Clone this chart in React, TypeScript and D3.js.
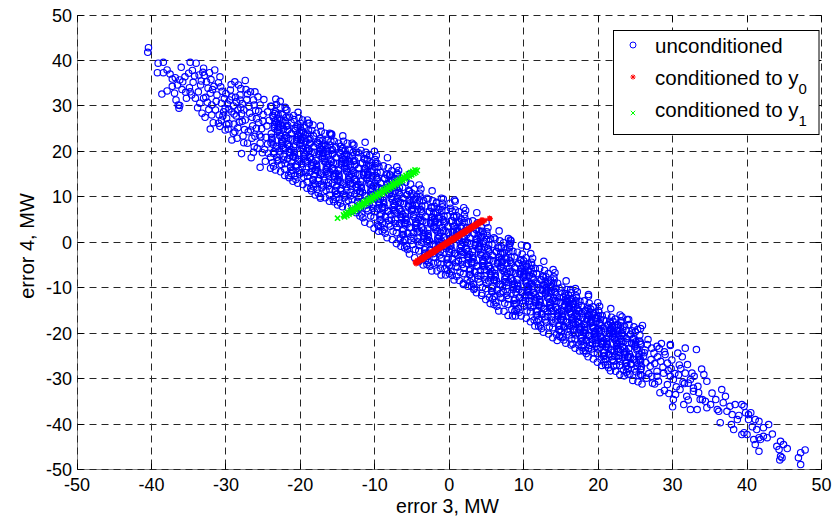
import React from "react"
import * as d3 from "d3"

// scatter of forecast errors, error 3 vs error 4 (MW), MATLAB style

const width = 836
const height = 520
const margin = { top: 15, right: 14.5, bottom: 50.5, left: 77 }

const xTicks = [-50, -40, -30, -20, -10, 0, 10, 20, 30, 40, 50]
const yTicks = [-50, -40, -30, -20, -10, 0, 10, 20, 30, 40, 50]

const legendLabels = ["unconditioned", "conditioned to y", "conditioned to y"]
const legendSubs = ["", "0", "1"]

// upper-left tail of the unconditioned cloud, [error 3, error 4]
const blueUpperTail: [number, number][] = [
  [-40.4,42.8],[-40.5,41.8],[-39.1,39.4],[-38.4,39.6],[-39.2,37.3],[-38.4,37.3],[-37.9,37.9],[-37.2,35.9],
  [-38.6,32.6],[-37.9,33.3],[-36.9,32.8],[-36.3,29.5],[-36.2,30.1],[-36.0,38.5],[-34.8,39.6],[-34.0,39.4],
  [-33.0,38.3],[-31.5,37.9],[-30.8,36.4],[-36.2,35.7],[-34.4,35.2],[-32.6,35.3],[-32.4,33.9],[-33.7,33.1],
  [-34.8,33.1],[-35.3,31.7],[-34.1,31.7],[-33.0,31.7],[-32.1,32.8],[-31.2,32.4],[-36.4,30.2],[-33.5,30.6],
  [-31.9,30.2],[-30.6,30.6],[-29.4,33.5],[-28.8,35.3],[-28.3,34.6],[-29.2,32.0],[-28.1,32.4],[-28.1,31.3],
  [-30.3,28.7],[-29.2,28.7],[-33.2,28.4],[-32.8,27.5],[-31.9,28.0],[-30.6,26.9],[-29.9,27.3],[-32.1,24.9],
  [-30.8,25.5],[-30.1,24.7],[-29.7,24.9],[-29.2,22.5],[-28.5,22.9],[-27.9,19.5],[-27.6,29.1],[-27.4,26.9],
  [-26.7,33.1],[-26.1,33.1],[-26.3,31.3],[-25.4,30.2],[-26.7,24.7],[-26.1,23.3],[-25.4,21.8],[-25.8,20.7],
  [-25.4,16.5],[-24.7,17.8],[-24.3,19.6],[-22.7,31.0],[-20.9,27.9],
  [-37.5,37.0],[-36.8,36.2],[-35.8,35.3],[-35.5,36.4],[-34.9,34.0],[-34.2,36.6],[-33.6,36.8],[-35.0,37.2],
  [-36.5,34.6],[-35.9,33.6],[-37.2,34.3],[-34.6,32.4],[-33.4,34.6],[-32.9,36.7],[-32.2,37.3],[-31.6,34.3],
  [-31.0,35.1],[-30.5,33.2],[-30.2,31.6],[-29.8,30.4],[-29.0,30.0],[-28.6,27.8],[-28.9,26.0],[-27.9,28.3],
  [-27.2,31.4],[-27.0,24.3],[-26.5,27.5],[-26.0,29.0],[-25.6,26.3],[-25.2,25.0],[-25.0,28.1],[-24.6,23.1],
  [-24.2,26.8],[-24.0,29.9],[-31.4,29.1],[-32.5,30.8],[-33.8,29.6],[-28.0,33.8],[-27.4,35.6],
  [-29.6,26.1],[-29.0,24.0],[-28.4,25.2],[-28.0,29.6],[-27.7,23.4],[-27.1,21.8],[-26.9,29.9],[-26.4,25.6],
  [-26.2,21.0],[-25.9,27.2],[-25.5,23.6],[-25.1,19.7],[-24.9,31.4],[-24.5,25.6],[-24.4,21.6],[-28.6,30.9],
  [-27.8,26.6],[-26.6,18.6],[-25.7,32.0],[-30.9,28.0],[-31.7,26.3],[-30.1,29.4],[-29.5,31.3],[-28.9,28.2],
  [-27.3,33.6],
  [-33.3,35.5],[-32.7,31.9],[-32.3,29.2],[-31.8,33.6],[-31.3,31.0],[-30.7,34.2],[-30.4,27.8],[-30.0,32.7],
  [-29.6,29.3],[-29.3,34.7],[-28.7,31.9],[-28.4,29.1],[-28.2,26.4],[-27.8,30.5],[-27.5,24.8],[-27.1,32.6],
  [-26.8,28.4],[-26.5,22.9],[-26.2,30.2],[-25.9,25.1],[-25.6,28.8],[-25.3,23.2],[-25.0,26.6],[-24.8,20.4],
  [-24.4,28.7],[-31.0,26.2],[-29.9,25.9],[-28.8,24.3],[-27.6,21.9],[-26.3,19.8],[-34.5,37.8],[-35.4,33.0],
  [-36.7,31.3],[-33.1,37.4],[-32.0,35.8],
]

// dense core of the unconditioned cloud, first pass
const blueCore: [number, number][] = [
  [-23.9,23.9],[-23.3,20.7],[-23.7,27.9],[-23.1,17.9],[-23.5,25.5],[-23.8,22.3],[-23.2,30.3],[-23.6,19.5],[-23.4,26.7],[-24,16.3],[-23.05,24.7],[-23.65,21.5],[-23.35,28.7],[-23.85,23.1],[-23.45,25.9],[-23.15,18.7],
  [-22.55,21.7],[-22.95,26.1],[-22.25,18.1],[-22.75,24.1],[-22.1,16.1],[-22.4,28.1],[-22.85,20.1],[-22.5,22.5],[-22.7,29.7],[-22.2,18.9],[-23,25.3],[-22.3,20.9],[-22.8,27.3],[-22.05,17.3],[-22.6,23.3],[-22.35,26.5],
  [-21.2,23.9],[-21.7,18.3],[-21.45,27.5],[-22,20.7],[-21.3,16.7],[-21.85,25.5],[-21.6,14.7],[-21.1,22.7],[-21.75,21.5],[-21.4,19.1],[-21.95,29.1],[-21.15,15.9],[-21.65,24.7],[-21.5,19.9],[-21.25,26.3],[-21.8,23.1],
  [-20.9,21],[-20.3,17.8],[-20.7,25],[-20.1,15],[-20.5,22.6],[-20.8,19.4],[-20.2,27.4],[-20.6,16.6],[-20.4,23.8],[-21,13.4],[-20.05,21.8],[-20.65,18.6],[-20.35,25.8],[-20.85,20.2],[-20.45,23],[-20.15,15.8],
  [-19.55,18.9],[-19.95,23.3],[-19.25,15.3],[-19.75,21.3],[-19.1,13.3],[-19.4,25.3],[-19.85,17.3],[-19.5,19.7],[-19.7,26.9],[-19.2,16.1],[-20,22.5],[-19.3,18.1],[-19.8,24.5],[-19.05,14.5],[-19.6,20.5],[-19.35,23.7],
  [-18.2,21],[-18.7,15.4],[-18.45,24.6],[-19,17.8],[-18.3,13.8],[-18.85,22.6],[-18.6,11.8],[-18.1,19.8],[-18.75,18.6],[-18.4,16.2],[-18.95,26.2],[-18.15,13],[-18.65,21.8],[-18.5,17],[-18.25,23.4],[-18.8,20.2],
  [-17.9,18],[-17.3,14.8],[-17.7,22],[-17.1,12],[-17.5,19.6],[-17.8,16.4],[-17.2,24.4],[-17.6,13.6],[-17.4,20.8],[-18,10.4],[-17.05,18.8],[-17.65,15.6],[-17.35,22.8],[-17.85,17.2],[-17.45,20],[-17.15,12.8],
  [-16.55,16],[-16.95,20.4],[-16.25,12.4],[-16.75,18.4],[-16.1,10.4],[-16.4,22.4],[-16.85,14.4],[-16.5,16.8],[-16.7,24],[-16.2,13.2],[-17,19.6],[-16.3,15.2],[-16.8,21.6],[-16.05,11.6],[-16.6,17.6],[-16.35,20.8],
  [-15.2,18.6],[-15.7,13],[-15.45,22.2],[-16,15.4],[-15.3,11.4],[-15.85,20.2],[-15.6,9.4],[-15.1,17.4],[-15.75,16.2],[-15.4,13.8],[-15.95,23.8],[-15.15,10.6],[-15.65,19.4],[-15.5,14.6],[-15.25,21],[-15.8,17.8],
  [-14.9,15.8],[-14.3,12.6],[-14.7,19.8],[-14.1,9.8],[-14.5,17.4],[-14.8,14.2],[-14.2,22.2],[-14.6,11.4],[-14.4,18.6],[-15,8.2],[-14.05,16.6],[-14.65,13.4],[-14.35,20.6],[-14.85,15],[-14.45,17.8],[-14.15,10.6],
  [-13.55,13.8],[-13.95,18.2],[-13.25,10.2],[-13.75,16.2],[-13.1,8.2],[-13.4,20.2],[-13.85,12.2],[-13.5,14.6],[-13.7,21.8],[-13.2,11],[-14,17.4],[-13.3,13],[-13.8,19.4],[-13.05,9.4],[-13.6,15.4],[-13.35,18.6],
  [-12.2,16.2],[-12.7,10.6],[-12.45,19.8],[-13,13],[-12.3,9],[-12.85,17.8],[-12.6,7],[-12.1,15],[-12.75,13.8],[-12.4,11.4],[-12.95,21.4],[-12.15,8.2],[-12.65,17],[-12.5,12.2],[-12.25,18.6],[-12.8,15.4],
  [-11.9,13.4],[-11.3,10.2],[-11.7,17.4],[-11.1,7.4],[-11.5,15],[-11.8,11.8],[-11.2,19.8],[-11.6,9],[-11.4,16.2],[-12,5.8],[-11.05,14.2],[-11.65,11],[-11.35,18.2],[-11.85,12.6],[-11.45,15.4],[-11.15,8.2],
  [-10.55,11.1],[-10.95,15.5],[-10.25,7.5],[-10.75,13.5],[-10.1,5.5],[-10.4,17.5],[-10.85,9.5],[-10.5,11.9],[-10.7,19.1],[-10.2,8.3],[-11,14.7],[-10.3,10.3],[-10.8,16.7],[-10.05,6.7],[-10.6,12.7],[-10.35,15.9],
  [-9.2,13],[-9.7,7.4],[-9.45,16.6],[-10,9.8],[-9.3,5.8],[-9.85,14.6],[-9.6,3.8],[-9.1,11.8],[-9.75,10.6],[-9.4,8.2],[-9.95,18.2],[-9.15,5],[-9.65,13.8],[-9.5,9],[-9.25,15.4],[-9.8,12.2],
  [-8.9,10],[-8.3,6.8],[-8.7,14],[-8.1,4],[-8.5,11.6],[-8.8,8.4],[-8.2,16.4],[-8.6,5.6],[-8.4,12.8],[-9,2.4],[-8.05,10.8],[-8.65,7.6],[-8.35,14.8],[-8.85,9.2],[-8.45,12],[-8.15,4.8],
  [-7.55,7.7],[-7.95,12.1],[-7.25,4.1],[-7.75,10.1],[-7.1,2.1],[-7.4,14.1],[-7.85,6.1],[-7.5,8.5],[-7.7,15.7],[-7.2,4.9],[-8,11.3],[-7.3,6.9],[-7.8,13.3],[-7.05,3.3],[-7.6,9.3],[-7.35,12.5],
  [-6.2,9.7],[-6.7,4.1],[-6.45,13.3],[-7,6.5],[-6.3,2.5],[-6.85,11.3],[-6.6,0.5],[-6.1,8.5],[-6.75,7.3],[-6.4,4.9],[-6.95,14.9],[-6.15,1.7],[-6.65,10.5],[-6.5,5.7],[-6.25,12.1],[-6.8,8.9],
  [-5.9,6.4],[-5.3,3.2],[-5.7,10.4],[-5.1,0.4],[-5.5,8],[-5.8,4.8],[-5.2,12.8],[-5.6,2],[-5.4,9.2],[-6,-1.2],[-5.05,7.2],[-5.65,4],[-5.35,11.2],[-5.85,5.6],[-5.45,8.4],[-5.15,1.2],
  [-4.55,3.7],[-4.95,8.1],[-4.25,0.1],[-4.75,6.1],[-4.1,-1.9],[-4.4,10.1],[-4.85,2.1],[-4.5,4.5],[-4.7,11.7],[-4.2,0.9],[-5,7.3],[-4.3,2.9],[-4.8,9.3],[-4.05,-0.7],[-4.6,5.3],[-4.35,8.5],
  [-3.2,5.6],[-3.7,0],[-3.45,9.2],[-4,2.4],[-3.3,-1.6],[-3.85,7.2],[-3.6,-3.6],[-3.1,4.4],[-3.75,3.2],[-3.4,0.8],[-3.95,10.8],[-3.15,-2.4],[-3.65,6.4],[-3.5,1.6],[-3.25,8],[-3.8,4.8],
  [-2.9,2.7],[-2.3,-0.5],[-2.7,6.7],[-2.1,-3.3],[-2.5,4.3],[-2.8,1.1],[-2.2,9.1],[-2.6,-1.7],[-2.4,5.5],[-3,-4.9],[-2.05,3.5],[-2.65,0.3],[-2.35,7.5],[-2.85,1.9],[-2.45,4.7],[-2.15,-2.5],
  [-1.55,0.8],[-1.95,5.2],[-1.25,-2.8],[-1.75,3.2],[-1.1,-4.8],[-1.4,7.2],[-1.85,-0.8],[-1.5,1.6],[-1.7,8.8],[-1.2,-2],[-2,4.4],[-1.3,0],[-1.8,6.4],[-1.05,-3.6],[-1.6,2.4],[-1.35,5.6],
  [-0.2,3.4],[-0.7,-2.2],[-0.45,7],[-1,0.2],[-0.3,-3.8],[-0.85,5],[-0.6,-5.8],[-0.1,2.2],[-0.75,1],[-0.4,-1.4],[-0.95,8.6],[-0.15,-4.6],[-0.65,4.2],[-0.5,-0.6],[-0.25,5.8],[-0.8,2.6],
  [0.1,0.7],[0.7,-2.5],[0.3,4.7],[0.9,-5.3],[0.5,2.3],[0.2,-0.9],[0.8,7.1],[0.4,-3.7],[0.6,3.5],[0,-6.9],[0.95,1.5],[0.35,-1.7],[0.65,5.5],[0.15,-0.1],[0.55,2.7],[0.85,-4.5],
  [1.45,-1.3],[1.05,3.1],[1.75,-4.9],[1.25,1.1],[1.9,-6.9],[1.6,5.1],[1.15,-2.9],[1.5,-0.5],[1.3,6.7],[1.8,-4.1],[1,2.3],[1.7,-2.1],[1.2,4.3],[1.95,-5.7],[1.4,0.3],[1.65,3.5],
  [2.8,0.9],[2.3,-4.7],[2.55,4.5],[2,-2.3],[2.7,-6.3],[2.15,2.5],[2.4,-8.3],[2.9,-0.3],[2.25,-1.5],[2.6,-3.9],[2.05,6.1],[2.85,-7.1],[2.35,1.7],[2.5,-3.1],[2.75,3.3],[2.2,0.1],
  [3.1,-2.1],[3.7,-5.3],[3.3,1.9],[3.9,-8.1],[3.5,-0.5],[3.2,-3.7],[3.8,4.3],[3.4,-6.5],[3.6,0.7],[3,-9.7],[3.95,-1.3],[3.35,-4.5],[3.65,2.7],[3.15,-2.9],[3.55,-0.1],[3.85,-7.3],
  [4.45,-4.6],[4.05,-0.2],[4.75,-8.2],[4.25,-2.2],[4.9,-10.2],[4.6,1.8],[4.15,-6.2],[4.5,-3.8],[4.3,3.4],[4.8,-7.4],[4,-1],[4.7,-5.4],[4.2,1],[4.95,-9],[4.4,-3],[4.65,0.2],
  [5.8,-2.9],[5.3,-8.5],[5.55,0.7],[5,-6.1],[5.7,-10.1],[5.15,-1.3],[5.4,-12.1],[5.9,-4.1],[5.25,-5.3],[5.6,-7.7],[5.05,2.3],[5.85,-10.9],[5.35,-2.1],[5.5,-6.9],[5.75,-0.5],[5.2,-3.7],
  [6.1,-6.1],[6.7,-9.3],[6.3,-2.1],[6.9,-12.1],[6.5,-4.5],[6.2,-7.7],[6.8,0.3],[6.4,-10.5],[6.6,-3.3],[6,-13.7],[6.95,-5.3],[6.35,-8.5],[6.65,-1.3],[6.15,-6.9],[6.55,-4.1],[6.85,-11.3],
  [7.45,-8.1],[7.05,-3.7],[7.75,-11.7],[7.25,-5.7],[7.9,-13.7],[7.6,-1.7],[7.15,-9.7],[7.5,-7.3],[7.3,-0.1],[7.8,-10.9],[7,-4.5],[7.7,-8.9],[7.2,-2.5],[7.95,-12.5],[7.4,-6.5],[7.65,-3.3],
  [8.8,-5.6],[8.3,-11.2],[8.55,-2],[8,-8.8],[8.7,-12.8],[8.15,-4],[8.4,-14.8],[8.9,-6.8],[8.25,-8],[8.6,-10.4],[8.05,-0.4],[8.85,-13.6],[8.35,-4.8],[8.5,-9.6],[8.75,-3.2],[8.2,-6.4],
  [9.1,-8.2],[9.7,-11.1],[9.3,-4.7],[9.9,-13.5],[9.5,-6.8],[9.2,-9.7],[9.8,-2.6],[9.4,-12.1],[9.6,-5.8],[9,-14.9],[9.95,-7.5],[9.35,-10.4],[9.65,-4],[9.15,-9],[9.55,-6.5],[9.85,-12.8],
  [10.45,-10.4],[10.05,-6.5],[10.75,-13.6],[10.25,-8.3],[10.9,-15.3],[10.6,-4.8],[10.15,-11.8],[10.5,-9.7],[10.3,-3.4],[10.8,-12.9],[10,-7.2],[10.7,-11.1],[10.2,-5.5],[10.95,-14.3],[10.4,-9],[10.65,-6.2],
  [11.8,-9],[11.3,-13.9],[11.55,-5.8],[11,-11.8],[11.7,-15.3],[11.15,-7.6],[11.4,-17.1],[11.9,-10],[11.25,-11.1],[11.6,-13.2],[11.05,-4.4],[11.85,-16],[11.35,-8.3],[11.5,-12.5],[11.75,-6.9],[11.2,-9.7],
  [12.1,-11.8],[12.7,-14.7],[12.3,-8.3],[12.9,-17.1],[12.5,-10.4],[12.2,-13.3],[12.8,-6.2],[12.4,-15.7],[12.6,-9.4],[12,-18.5],[12.95,-11.1],[12.35,-14],[12.65,-7.6],[12.15,-12.6],[12.55,-10.1],[12.85,-16.4],
  [13.45,-13.9],[13.05,-10],[13.75,-17.1],[13.25,-11.8],[13.9,-18.8],[13.6,-8.3],[13.15,-15.3],[13.5,-13.2],[13.3,-6.9],[13.8,-16.4],[13,-10.7],[13.7,-14.6],[13.2,-9],[13.95,-17.8],[13.4,-12.5],[13.65,-9.7],
  [14.8,-12.2],[14.3,-17.1],[14.55,-9],[14,-15],[14.7,-18.5],[14.15,-10.8],[14.4,-20.3],[14.9,-13.2],[14.25,-14.3],[14.6,-16.4],[14.05,-7.6],[14.85,-19.2],[14.35,-11.5],[14.5,-15.7],[14.75,-10.1],[14.2,-12.9],
  [15.1,-15.2],[15.7,-17.6],[15.3,-12.2],[15.9,-19.7],[15.5,-14],[15.2,-16.4],[15.8,-10.4],[15.4,-18.5],[15.6,-13.1],[15,-20.9],[15.95,-14.6],[15.35,-17],[15.65,-11.6],[15.15,-15.8],[15.55,-13.7],[15.85,-19.1],
  [16.45,-17.1],[16.05,-13.8],[16.75,-19.8],[16.25,-15.3],[16.9,-21.3],[16.6,-12.3],[16.15,-18.3],[16.5,-16.5],[16.3,-11.1],[16.8,-19.2],[16,-14.4],[16.7,-17.7],[16.2,-12.9],[16.95,-20.4],[16.4,-15.9],[16.65,-13.5],
  [17.8,-15.7],[17.3,-19.9],[17.55,-13],[17,-18.1],[17.7,-21.1],[17.15,-14.5],[17.4,-22.6],[17.9,-16.6],[17.25,-17.5],[17.6,-19.3],[17.05,-11.8],[17.85,-21.7],[17.35,-15.1],[17.5,-18.7],[17.75,-13.9],[17.2,-16.3],
  [18.1,-18.2],[18.7,-20.6],[18.3,-15.2],[18.9,-22.7],[18.5,-17],[18.2,-19.4],[18.8,-13.4],[18.4,-21.5],[18.6,-16.1],[18,-23.9],[18.95,-17.6],[18.35,-20],[18.65,-14.6],[18.15,-18.8],[18.55,-16.7],[18.85,-22.1],
  [19.45,-20.2],[19.05,-16.9],[19.75,-22.9],[19.25,-18.4],[19.9,-24.4],[19.6,-15.4],[19.15,-21.4],[19.5,-19.6],[19.3,-14.2],[19.8,-22.3],[19,-17.5],[19.7,-20.8],[19.2,-16],[19.95,-23.5],[19.4,-19],[19.65,-16.6],
  [20.8,-18.9],[20.3,-23.1],[20.55,-16.2],[20,-21.3],[20.7,-24.3],[20.15,-17.7],[20.4,-25.8],[20.9,-19.8],[20.25,-20.7],[20.6,-22.5],[20.05,-15],[20.85,-24.9],[20.35,-18.3],[20.5,-21.9],[20.75,-17.1],[20.2,-19.5],
  [21.1,-21.3],[21.7,-23.7],[21.3,-18.3],[21.9,-25.8],[21.5,-20.1],[21.2,-22.5],[21.8,-16.5],[21.4,-24.6],[21.6,-19.2],[21,-27],[21.95,-20.7],[21.35,-23.1],[21.65,-17.7],[21.15,-21.9],[21.55,-19.8],[21.85,-25.2],
  [22.45,-22.9],[22.05,-19.6],[22.75,-25.6],[22.25,-21.1],[22.9,-27.1],[22.6,-18.1],[22.15,-24.1],[22.5,-22.3],[22.3,-16.9],[22.8,-25],[22,-20.2],[22.7,-23.5],[22.2,-18.7],[22.95,-26.2],[22.4,-21.7],[22.65,-19.3],
  [23.8,-21.2],[23.3,-25.4],[23.55,-18.5],[23,-23.6],[23.7,-26.6],[23.15,-20],[23.4,-28.1],[23.9,-22.1],[23.25,-23],[23.6,-24.8],[23.05,-17.3],[23.85,-27.2],[23.35,-20.6],[23.5,-24.2],[23.75,-19.4],[23.2,-21.8],
  [24.1,-23.4],[24.7,-25.8],[24.3,-20.4],[24.9,-27.9],[24.5,-22.2],[24.2,-24.6],[24.8,-18.6],[24.4,-26.7],[24.6,-21.3],[24,-29.1],[24.95,-22.8],[24.35,-25.2],
  [25.45,-25.2],[25.05,-21.9],[25.75,-27.9],[25.25,-23.4],[25.9,-29.4],[25.6,-20.4],[25.15,-26.4],[25.5,-24.6],[25.3,-19.2],[25.8,-27.3],[25,-22.5],[25.7,-25.8],
]

// dense core, second pass (fills the gaps of the first)
const blueCore2: [number, number][] = [
  [-23.95,21.9],[-23.45,28.3],[-23.75,17.5],[-23.25,26.3],[-23.55,19.9],[-23.05,24.3],[-23.85,29.9],[-23.35,15.9],[-23.65,27.5],[-23.15,21.1],[-23.5,25.1],[-24,18.7],[-23.3,31.5],[-23.8,22.7],[-23.1,27.1],[-23.6,16.7],
  [-22.4,25.7],[-22.9,18.1],[-22.15,22.9],[-22.65,15.5],[-23,28.1],[-22.5,21.3],[-22.25,24.9],[-22.75,19.3],[-22.05,29.7],[-22.55,17.1],[-22.8,23.5],[-22.3,20.5],[-22.6,26.9],[-22.1,14.7],[-22.85,25.2],[-22.35,22.1],
  [-21.65,21.5],[-21.15,17.5],[-21.9,27.5],[-21.4,19.7],[-21.7,25.7],[-21.2,15.1],[-21.95,23.5],[-21.45,21.1],[-21.8,29.1],[-21.3,16.5],[-21.55,22.8],[-21.05,18.8],[-22,26.7],[-21.5,14.2],[-21.75,24.7],[-21.25,20.4],
  [-20.95,19],[-20.45,25.4],[-20.75,14.6],[-20.25,23.4],[-20.55,17],[-20.05,21.4],[-20.85,27],[-20.35,13],[-20.65,24.6],[-20.15,18.2],[-20.5,22.2],[-21,15.8],[-20.3,28.6],[-20.8,19.8],[-20.1,24.2],[-20.6,13.8],
  [-19.4,22.9],[-19.9,15.3],[-19.15,20.1],[-19.65,12.7],[-20,25.3],[-19.5,18.5],[-19.25,22.1],[-19.75,16.5],[-19.05,26.9],[-19.55,14.3],[-19.8,20.7],[-19.3,17.7],[-19.6,24.1],[-19.1,11.9],[-19.85,22.4],[-19.35,19.3],
  [-18.65,18.6],[-18.15,14.6],[-18.9,24.6],[-18.4,16.8],[-18.7,22.8],[-18.2,12.2],[-18.95,20.6],[-18.45,18.2],[-18.8,26.2],[-18.3,13.6],[-18.55,19.9],[-18.05,15.9],[-19,23.8],[-18.5,11.3],[-18.75,21.8],[-18.25,17.5],
  [-17.95,16],[-17.45,22.4],[-17.75,11.6],[-17.25,20.4],[-17.55,14],[-17.05,18.4],[-17.85,24],[-17.35,10],[-17.65,21.6],[-17.15,15.2],[-17.5,19.2],[-18,12.8],[-17.3,25.6],[-17.8,16.8],[-17.1,21.2],[-17.6,10.8],
  [-16.4,20],[-16.9,12.4],[-16.15,17.2],[-16.65,9.8],[-17,22.4],[-16.5,15.6],[-16.25,19.2],[-16.75,13.6],[-16.05,24],[-16.55,11.4],[-16.8,17.8],[-16.3,14.8],[-16.6,21.2],[-16.1,9],[-16.85,19.5],[-16.35,16.4],
  [-15.65,16.2],[-15.15,12.2],[-15.9,22.2],[-15.4,14.4],[-15.7,20.4],[-15.2,9.8],[-15.95,18.2],[-15.45,15.8],[-15.8,23.8],[-15.3,11.2],[-15.55,17.5],[-15.05,13.5],[-16,21.4],[-15.5,8.9],[-15.75,19.4],[-15.25,15.1],
  [-14.95,13.8],[-14.45,20.2],[-14.75,9.4],[-14.25,18.2],[-14.55,11.8],[-14.05,16.2],[-14.85,21.8],[-14.35,7.8],[-14.65,19.4],[-14.15,13],[-14.5,17],[-15,10.6],[-14.3,23.4],[-14.8,14.6],[-14.1,19],[-14.6,8.6],
  [-13.4,17.8],[-13.9,10.2],[-13.15,15],[-13.65,7.6],[-14,20.2],[-13.5,13.4],[-13.25,17],[-13.75,11.4],[-13.05,21.8],[-13.55,9.2],[-13.8,15.6],[-13.3,12.6],[-13.6,19],[-13.1,6.8],[-13.85,17.3],[-13.35,14.2],
  [-12.65,13.8],[-12.15,9.8],[-12.9,19.8],[-12.4,12],[-12.7,18],[-12.2,7.4],[-12.95,15.8],[-12.45,13.4],[-12.8,21.4],[-12.3,8.8],[-12.55,15.1],[-12.05,11.1],[-13,19],[-12.5,6.5],[-12.75,17],[-12.25,12.7],
  [-11.95,11.2],[-11.45,18.4],[-11.75,6.2],[-11.25,16.2],[-11.55,9],[-11.05,13.9],[-11.85,20.2],[-11.35,4.4],[-11.65,17.5],[-11.15,10.3],[-11.5,14.8],[-12,7.6],[-11.3,22],[-11.8,12.1],[-11.1,17],[-11.6,5.4],
  [-10.4,15.5],[-10.9,6.9],[-10.15,12.4],[-10.65,4],[-11,18.2],[-10.5,10.5],[-10.25,14.6],[-10.75,8.3],[-10.05,20],[-10.55,5.8],[-10.8,13],[-10.3,9.7],[-10.6,16.9],[-10.1,3.1],[-10.85,14.9],[-10.35,11.5],
  [-9.65,10.6],[-9.15,6.1],[-9.9,17.4],[-9.4,8.6],[-9.7,15.3],[-9.2,3.4],[-9.95,12.9],[-9.45,10.1],[-9.8,19.1],[-9.3,5],[-9.55,12.1],[-9.05,7.6],[-10,16.5],[-9.5,2.4],[-9.75,14.2],[-9.25,9.4],
  [-8.95,7.8],[-8.45,15],[-8.75,2.8],[-8.25,12.8],[-8.55,5.6],[-8.05,10.5],[-8.85,16.8],[-8.35,1],[-8.65,14.1],[-8.15,6.9],[-8.5,11.4],[-9,4.2],[-8.3,18.6],[-8.8,8.7],[-8.1,13.6],[-8.6,2],
  [-7.4,12.1],[-7.9,3.5],[-7.15,9],[-7.65,0.6],[-8,14.8],[-7.5,7.1],[-7.25,11.2],[-7.75,4.9],[-7.05,16.6],[-7.55,2.4],[-7.8,9.6],[-7.3,6.3],[-7.6,13.5],[-7.1,-0.3],[-7.85,11.5],[-7.35,8.1],
  [-6.65,7.3],[-6.15,2.8],[-6.9,14.1],[-6.4,5.3],[-6.7,12],[-6.2,0.1],[-6.95,9.6],[-6.45,6.8],[-6.8,15.8],[-6.3,1.7],[-6.55,8.8],[-6.05,4.3],[-7,13.2],[-6.5,-0.9],[-6.75,10.9],[-6.25,6.1],
  [-5.95,4.2],[-5.45,11.4],[-5.75,-0.8],[-5.25,9.2],[-5.55,2],[-5.05,6.9],[-5.85,13.2],[-5.35,-2.6],[-5.65,10.5],[-5.15,3.3],[-5.5,7.8],[-6,0.6],[-5.3,15],[-5.8,5.1],[-5.1,10],[-5.6,-1.6],
  [-4.4,8.1],[-4.9,-0.5],[-4.15,5],[-4.65,-3.4],[-5,10.8],[-4.5,3.1],[-4.25,7.2],[-4.75,0.9],[-4.05,12.6],[-4.55,-1.6],[-4.8,5.6],[-4.3,2.3],[-4.6,9.5],[-4.1,-4.3],[-4.85,7.5],[-4.35,4.1],
  [-3.65,3.2],[-3.15,-1.3],[-3.9,10],[-3.4,1.2],[-3.7,7.9],[-3.2,-4],[-3.95,5.5],[-3.45,2.7],[-3.8,11.7],[-3.3,-2.4],[-3.55,4.7],[-3.05,0.2],[-4,9.1],[-3.5,-5],[-3.75,6.8],[-3.25,2],
  [-2.95,0.5],[-2.45,7.7],[-2.75,-4.5],[-2.25,5.5],[-2.55,-1.7],[-2.05,3.2],[-2.85,9.5],[-2.35,-6.3],[-2.65,6.8],[-2.15,-0.4],[-2.5,4.1],[-3,-3.1],[-2.3,11.3],[-2.8,1.4],[-2.1,6.3],[-2.6,-5.3],
  [-1.4,5.2],[-1.9,-3.4],[-1.15,2.1],[-1.65,-6.3],[-2,7.9],[-1.5,0.2],[-1.25,4.3],[-1.75,-2],[-1.05,9.7],[-1.55,-4.5],[-1.8,2.7],[-1.3,-0.6],[-1.6,6.6],[-1.1,-7.2],[-1.85,4.6],[-1.35,1.2],
  [-0.65,1],[-0.15,-3.5],[-0.9,7.8],[-0.4,-1],[-0.7,5.7],[-0.2,-6.2],[-0.95,3.3],[-0.45,0.5],[-0.8,9.5],[-0.3,-4.6],[-0.55,2.5],[-0.05,-2],[-1,6.9],[-0.5,-7.2],[-0.75,4.6],[-0.25,-0.2],
  [0.05,-1.5],[0.55,5.7],[0.25,-6.5],[0.75,3.5],[0.45,-3.7],[0.95,1.2],[0.15,7.5],[0.65,-8.3],[0.35,4.8],[0.85,-2.4],[0.5,2.1],[0,-5.1],[0.7,9.3],[0.2,-0.6],[0.9,4.3],[0.4,-7.3],
  [1.6,3.1],[1.1,-5.5],[1.85,0],[1.35,-8.4],[1,5.8],[1.5,-1.9],[1.75,2.2],[1.25,-4.1],[1.95,7.6],[1.45,-6.6],[1.2,0.6],[1.7,-2.7],[1.4,4.5],[1.9,-9.3],[1.15,2.5],[1.65,-0.9],
  [2.35,-1.5],[2.85,-6],[2.1,5.3],[2.6,-3.5],[2.3,3.2],[2.8,-8.7],[2.05,0.8],[2.55,-2],[2.2,7],[2.7,-7.1],[2.45,0],[2.95,-4.5],[2,4.4],[2.5,-9.7],[2.25,2.1],[2.75,-2.7],
  [3.05,-4.3],[3.55,2.9],[3.25,-9.3],[3.75,0.7],[3.45,-6.5],[3.95,-1.6],[3.15,4.7],[3.65,-11.1],[3.35,2],[3.85,-5.2],[3.5,-0.7],[3,-7.9],[3.7,6.5],[3.2,-3.4],[3.9,1.5],[3.4,-10.1],
  [4.6,-0.2],[4.1,-8.8],[4.85,-3.3],[4.35,-11.7],[4,2.5],[4.5,-5.2],[4.75,-1.1],[4.25,-7.4],[4.95,4.3],[4.45,-9.9],[4.2,-2.7],[4.7,-6],[4.4,1.2],[4.9,-12.6],[4.15,-0.8],[4.65,-4.2],
  [5.35,-5.3],[5.85,-9.8],[5.1,1.5],[5.6,-7.3],[5.3,-0.6],[5.8,-12.5],[5.05,-3],[5.55,-5.8],[5.2,3.2],[5.7,-10.9],[5.45,-3.8],[5.95,-8.3],[5,0.6],[5.5,-13.5],[5.25,-1.7],[5.75,-6.5],
  [6.05,-8.3],[6.55,-1.1],[6.25,-13.3],[6.75,-3.3],[6.45,-10.5],[6.95,-5.6],[6.15,0.7],[6.65,-15.1],[6.35,-2],[6.85,-9.2],[6.5,-4.7],[6,-11.9],[6.7,2.5],[6.2,-7.4],[6.9,-2.5],[6.4,-14.1],
  [7.6,-3.7],[7.1,-12.3],[7.85,-6.8],[7.35,-15.2],[7,-1],[7.5,-8.7],[7.75,-4.6],[7.25,-10.9],[7.95,0.8],[7.45,-13.4],[7.2,-6.2],[7.7,-9.5],[7.4,-2.3],[7.9,-16.1],[7.15,-4.3],[7.65,-7.7],
  [8.35,-8],[8.85,-12.5],[8.1,-1.2],[8.6,-10],[8.3,-3.3],[8.8,-15.2],[8.05,-5.7],[8.55,-8.5],[8.2,0.5],[8.7,-13.6],[8.45,-6.5],[8.95,-11],[8,-2.1],[8.5,-16.2],[8.25,-4.4],[8.75,-9.2],
  [9.05,-10.2],[9.55,-3.8],[9.25,-14.6],[9.75,-5.8],[9.45,-12.2],[9.95,-7.8],[9.15,-2.2],[9.65,-16.2],[9.35,-4.6],[9.85,-11],[9.5,-7],[9,-13.4],[9.7,-0.6],[9.2,-9.4],[9.9,-5],[9.4,-15.4],
  [10.6,-6.5],[10.1,-14.1],[10.85,-9.3],[10.35,-16.7],[10,-4.1],[10.5,-10.9],[10.75,-7.3],[10.25,-12.9],[10.95,-2.5],[10.45,-15.1],[10.2,-8.7],[10.7,-11.7],[10.4,-5.3],[10.9,-17.5],[10.15,-7],[10.65,-10.1],
  [11.35,-11.1],[11.85,-15.1],[11.1,-5.1],[11.6,-12.9],[11.3,-6.9],[11.8,-17.5],[11.05,-9.1],[11.55,-11.5],[11.2,-3.5],[11.7,-16.1],[11.45,-9.8],[11.95,-13.8],[11,-5.9],[11.5,-18.4],[11.25,-7.9],[11.75,-12.2],
  [12.05,-13.8],[12.55,-7.4],[12.25,-18.2],[12.75,-9.4],[12.45,-15.8],[12.95,-11.4],[12.15,-5.8],[12.65,-19.8],[12.35,-8.2],[12.85,-14.6],[12.5,-10.6],[12,-17],[12.7,-4.2],[12.2,-13],[12.9,-8.6],[12.4,-19],
  [13.6,-10],[13.1,-17.6],[13.85,-12.8],[13.35,-20.2],[13,-7.6],[13.5,-14.4],[13.75,-10.8],[13.25,-16.4],[13.95,-6],[13.45,-18.6],[13.2,-12.2],[13.7,-15.2],[13.4,-8.8],[13.9,-21],[13.15,-10.5],[13.65,-13.6],
  [14.35,-14.3],[14.85,-18.3],[14.1,-8.3],[14.6,-16.1],[14.3,-10.1],[14.8,-20.7],[14.05,-12.3],[14.55,-14.7],[14.2,-6.7],[14.7,-19.3],[14.45,-13],[14.95,-17],[14,-9.1],[14.5,-21.6],[14.25,-11.1],[14.75,-15.4],
  [15.05,-16.9],[15.55,-11.3],[15.25,-20.8],[15.75,-13],[15.45,-18.7],[15.95,-14.8],[15.15,-9.9],[15.65,-22.2],[15.35,-12],[15.85,-17.6],[15.5,-14.1],[15,-19.7],[15.7,-8.5],[15.2,-16.2],[15.9,-12.3],[15.4,-21.5],
  [16.6,-13.7],[16.1,-20.4],[16.85,-16.1],[16.35,-22.6],[16,-11.6],[16.5,-17.6],[16.75,-14.4],[16.25,-19.3],[16.95,-10.2],[16.45,-21.2],[16.2,-15.6],[16.7,-18.2],[16.4,-12.6],[16.9,-23.3],[16.15,-14.2],[16.65,-16.8],
  [17.35,-17.5],[17.85,-21],[17.1,-12.2],[17.6,-19.1],[17.3,-13.8],[17.8,-23.1],[17.05,-15.7],[17.55,-17.9],[17.2,-10.9],[17.7,-21.9],[17.45,-16.3],[17.95,-19.8],[17,-12.9],[17.5,-23.9],[17.25,-14.7],[17.75,-18.5],
  [18.05,-19.9],[18.55,-14.3],[18.25,-23.8],[18.75,-16],[18.45,-21.7],[18.95,-17.8],[18.15,-12.9],[18.65,-25.2],[18.35,-15],[18.85,-20.6],[18.5,-17.1],[18,-22.7],[18.7,-11.5],[18.2,-19.2],[18.9,-15.3],[18.4,-24.5],
  [19.6,-16.8],[19.1,-23.5],[19.85,-19.2],[19.35,-25.7],[19,-14.7],[19.5,-20.7],[19.75,-17.5],[19.25,-22.4],[19.95,-13.3],[19.45,-24.3],[19.2,-18.7],[19.7,-21.3],[19.4,-15.7],[19.9,-26.4],[19.15,-17.3],[19.65,-19.9],
  [20.35,-20.7],[20.85,-24.2],[20.1,-15.4],[20.6,-22.3],[20.3,-17],[20.8,-26.3],[20.05,-18.9],[20.55,-21.1],[20.2,-14.1],[20.7,-25.1],[20.45,-19.5],[20.95,-23],[20,-16.1],[20.5,-27.1],[20.25,-17.9],[20.75,-21.7],
  [21.05,-23],[21.55,-17.4],[21.25,-26.9],[21.75,-19.1],[21.45,-24.8],[21.95,-20.9],[21.15,-16],[21.65,-28.3],[21.35,-18.1],[21.85,-23.7],[21.5,-20.2],[21,-25.8],[21.7,-14.6],[21.2,-22.3],[21.9,-18.4],[21.4,-27.6],
  [22.6,-19.5],[22.1,-26.2],[22.85,-21.9],[22.35,-28.4],[22,-17.4],[22.5,-23.4],[22.75,-20.2],[22.25,-25.1],[22.95,-16],[22.45,-27],[22.2,-21.4],[22.7,-24],[22.4,-18.4],[22.9,-29.1],[22.15,-20],[22.65,-22.6],
  [23.35,-23],[23.85,-26.5],[23.1,-17.7],[23.6,-24.6],[23.3,-19.3],[23.8,-28.6],[23.05,-21.2],[23.55,-23.4],[23.2,-16.4],[23.7,-27.4],[23.45,-21.8],[23.95,-25.3],[23,-18.4],[23.5,-29.4],[23.25,-20.2],[23.75,-24],
  [24.05,-25.1],[24.55,-19.5],[24.25,-29],[24.75,-21.2],[24.45,-26.9],[24.95,-23],[24.15,-18.1],[24.65,-30.4],[24.35,-20.2],[24.85,-25.8],[24.5,-22.3],[24,-27.9],
  [25.6,-21.8],[25.1,-28.5],[25.85,-24.2],[25.35,-30.7],[25,-19.7],[25.5,-25.7],[25.75,-22.5],[25.25,-27.4],[25.95,-18.3],[25.45,-29.3],[25.2,-23.7],[25.7,-26.3],
]

// lower-right tail
const blueLowerTail: [number, number][] = [
  [25.7,-22.2],[26.6,-22.5],[27.9,-22.9],[27.5,-24.4],[29,-24.7],[26.1,-25.1],[28.4,-26.2],[29.3,-26.6],
  [27,-27.3],[27.9,-28.4],[28.8,-28.8],[29.7,-29.5],[30.1,-30.2],[28.1,-30.6],[29.3,-31.3],[30.1,-34.6],
  [25.7,-28],[27.2,-29.5],[26.4,-26.5],[29.7,-22.7],[31.7,-23.3],[33.2,-23.6],[31.3,-25.2],[31.7,-28.8],
  [32.6,-28.8],[34.2,-29.1],[34.6,-30.6],[31,-32.4],[32.8,-32.1],[32.8,-32.8],[33.5,-33.1],[34,-34.6],
  [34.4,-35],[35.1,-35.7],[34.6,-36.4],[32.4,-36.8],[31.5,-35.7],[30.4,-33.5],[31.9,-33.9],[33.3,-36.8],
  [33.7,-34.6],[36.6,-32.4],[37.1,-33.9],[35.8,-34.6],[36,-36.8],[36.2,-37.2],[37.3,-37.2],[36.4,-39.7],
  [38,-37.9],[38.4,-35.7],[38.7,-39],[39.6,-36.1],[39.8,-37.5],[40.5,-37.5],[40.2,-39],[41.1,-39],
  [41.6,-39.4],[42.9,-40.1],[42.2,-40.8],[41.3,-41.2],[38.2,-41.2],[39.3,-42.3],[40,-42.3],[40.9,-43.4],
  [41.6,-43],[41.1,-44.5],[42.2,-42.7],[42.7,-43],[41.6,-46],[44,-44.9],[44.5,-43.8],[44.9,-44.5],
  [45.4,-45.4],[44.3,-45.6],[44.5,-47.1],[47.2,-46.3],[47.8,-45.7],[46.9,-47.4],[47.2,-48.9],[44.7,-47.4],
  [44.4,-47.9],[39.6,-41.9],[39.3,-35.7],[40.2,-37.9],[41.8,-43.4],[24.1,-17],[25.7,-19],[29.7,-22.5],
  [26.3,-23.7],[27.1,-25.8],[28.2,-23.4],[28.7,-27.5],[26.8,-28.9],[29.8,-27.8],[30.5,-31.8],[30.8,-29.2],
  [28.9,-32.6],[30.9,-27.0],[27.6,-31.2],[29.5,-33.3],[31.4,-30.8],[32.1,-31.0],[22.1,-27.3],[25.7,-29.1],
  [27.9,-29.5],[16.6,-22.4],[18.7,-23.3],[8.9,-16.2],[16.3,-10.4],[18.7,-11.9],[23.9,-17],
  [26.2,-24.3],[26.7,-21.4],[27.2,-23.3],[27.6,-26.7],[28.0,-25.2],[28.5,-22.3],[28.9,-24.1],[29.4,-28.2],
  [29.9,-25.9],[30.3,-28.9],[30.7,-24.4],[31.1,-27.8],[31.6,-31.1],[32.0,-26.9],[32.4,-30.2],[32.9,-29.5],
  [33.4,-31.7],[33.9,-27.9],[26.5,-29.9],[27.3,-31.0],[28.3,-33.1],[25.9,-31.2],[30.0,-36.2],[32.1,-34.7],
  [35.3,-33.2],[36.8,-35.3],[37.7,-36.1],[38.9,-38.1],[37.9,-40.1],[40.7,-40.6],[43.4,-42.2],
]

// loose points along the edges of the band
const blueFringe: [number, number][] = [
  [-20,26.2],[-18.3,25.8],[-15.8,23.6],[-14.6,21.1],[-12.2,19.7],[-11.1,19.2],[-9.7,17.4],[-7.9,14.8],
  [-7.0,15.2],[-3,9.7],[-1.7,8.6],[0.1,8.6],[0.8,9],[0.4,6.8],[4.4,2.4],[6,1],[8.3,0.3],[10.5,-0.9],
  [8.2,-0.2],[10.4,-0.9],[-17.3,9.7],[-9.5,3.5],[-6.6,0.9],[-5.7,-0.9],[-2.1,-4.6],[-1.2,-5.7],[1,-7.5],
  [1.9,-9],[3.3,-10.4],[4.4,-11.2],
]

// conditioned to y0
const redPoints: [number, number][] = [
  [-4.6,-4.29],[-4.45,-4.74],[-4.3,-3.98],[-4.15,-4.43],[-4.0,-3.67],[-3.85,-4.12],[-3.7,-3.36],[-3.55,-3.81],
  [-3.4,-3.05],[-3.25,-3.5],[-3.1,-2.74],[-2.95,-3.19],[-2.8,-2.43],[-2.65,-2.88],[-2.5,-2.13],[-2.35,-2.58],
  [-2.2,-1.82],[-2.05,-2.27],[-1.9,-1.51],[-1.75,-1.96],[-1.6,-1.2],[-1.45,-1.65],[-1.3,-0.89],[-1.15,-1.34],
  [-1.0,-0.58],[-0.85,-1.03],[-0.7,-0.27],[-0.55,-0.72],[-0.4,0.04],[-0.25,-0.41],[-0.1,0.35],[0.05,-0.1],
  [0.2,0.66],[0.35,0.21],[0.5,0.97],[0.65,0.52],[0.8,1.27],[0.95,0.82],[1.1,1.58],[1.25,1.13],
  [1.4,1.89],[1.55,1.44],[1.7,2.2],[1.85,1.75],[2.0,2.51],[2.15,2.06],[2.3,2.82],[2.45,2.37],
  [2.6,3.13],[2.75,2.68],[2.9,3.44],[3.05,2.99],[3.2,3.75],[3.35,3.3],[3.5,4.06],[3.65,3.61],
  [3.8,4.36],[3.95,3.91],[4.1,4.67],[4.25,4.22],[4.4,4.98],[4.55,4.53],[4.8,4.8],[5.4,5.3],[5.5,5.2],
  [-4.525,-4.51],[-4.225,-4.2],[-3.925,-3.89],[-3.625,-3.58],[-3.325,-3.27],[-3.025,-2.97],[-2.725,-2.66],[-2.425,-2.35],
  [-2.125,-2.04],[-1.825,-1.73],[-1.525,-1.42],[-1.225,-1.11],[-0.925,-0.8],[-0.625,-0.49],[-0.325,-0.18],[-0.025,0.12],
  [0.275,0.43],[0.575,0.74],[0.875,1.05],[1.175,1.36],[1.475,1.67],[1.775,1.98],[2.075,2.29],[2.375,2.6],
  [2.675,2.91],[2.975,3.21],[3.275,3.52],[3.575,3.83],[3.875,4.14],[4.175,4.45],[4.475,4.76],
]

// conditioned to y1
const greenPoints: [number, number][] = [
  [-14.2,6.02],[-14.05,5.58],[-13.9,6.33],[-13.75,5.89],[-13.6,6.64],[-13.45,6.2],[-13.3,6.95],[-13.15,6.51],
  [-13.0,7.26],[-12.85,6.82],[-12.7,7.57],[-12.55,7.13],[-12.4,7.88],[-12.25,7.44],[-12.1,8.19],[-11.95,7.75],
  [-11.8,8.5],[-11.65,8.06],[-11.5,8.81],[-11.35,8.37],[-11.2,9.11],[-11.05,8.67],[-10.9,9.42],[-10.75,8.98],
  [-10.6,9.73],[-10.45,9.29],[-10.3,10.04],[-10.15,9.6],[-10.0,10.35],[-9.85,9.91],[-9.7,10.66],[-9.55,10.22],
  [-9.4,10.97],[-9.25,10.53],[-9.1,11.28],[-8.95,10.84],[-8.8,11.59],[-8.65,11.15],[-8.5,11.9],[-8.35,11.46],
  [-8.2,12.2],[-8.05,11.76],[-7.9,12.51],[-7.75,12.07],[-7.6,12.82],[-7.45,12.38],[-7.3,13.13],[-7.15,12.69],
  [-7.0,13.44],[-6.85,13.0],[-6.7,13.75],[-6.55,13.31],[-6.4,14.06],[-6.25,13.62],[-6.1,14.37],[-5.95,13.93],
  [-5.8,14.68],[-5.65,14.24],[-5.5,14.99],[-5.35,14.55],[-5.2,15.29],[-5.05,14.85],[-4.9,15.6],[-4.75,15.16],
  [-4.6,15.91],[-15.0,5.3],[-4.3,15.8],[-4.5,15.4],
  [-14.125,5.8],[-13.825,6.11],[-13.525,6.42],[-13.225,6.73],[-12.925,7.04],[-12.625,7.35],[-12.325,7.66],[-12.025,7.96],
  [-11.725,8.27],[-11.425,8.58],[-11.125,8.89],[-10.825,9.2],[-10.525,9.51],[-10.225,9.82],[-9.925,10.13],[-9.625,10.44],
  [-9.325,10.75],[-9.025,11.05],[-8.725,11.36],[-8.425,11.67],[-8.125,11.98],[-7.825,12.29],[-7.525,12.6],[-7.225,12.91],
  [-6.925,13.22],[-6.625,13.53],[-6.325,13.84],[-6.025,14.14],[-5.725,14.45],[-5.425,14.76],[-5.125,15.07],[-4.825,15.38],
]

const font = "'Liberation Sans', Arial, Helvetica, sans-serif"
const starPath = "M-2.6,0H2.6M0,-2.6V2.6M-1.9,-1.9L1.9,1.9M-1.9,1.9L1.9,-1.9"
const crossPath = "M-2.2,-2.2L2.2,2.2M-2.2,2.2L2.2,-2.2"
const bigCrossPath = "M-2.6,-2.6L2.6,2.6M-2.6,2.6L2.6,-2.6"

export default function App() {
  const x = d3.scaleLinear().domain([-50, 50]).range([margin.left, width - margin.right])
  const y = d3.scaleLinear().domain([-50, 50]).range([height - margin.bottom, margin.top])
  const snap = (v: number) => Math.floor(v) + 0.5

  const blue = [...blueUpperTail, ...blueCore, ...blueCore2, ...blueLowerTail, ...blueFringe]
  const x0 = snap(x(-50)), x1 = snap(x(50)), y0 = snap(y(-50)), y1 = snap(y(50))
  const grid = "#262626"
  const tickLen = 6

  const legend = { x: 613.5, y: 30.5, w: 205.5, h: 104 }
  const rowY = [45, 77, 113]
  const baseY = [53, 85, 117]

  return (
    <svg width={width} height={height} style={{ position: "absolute", left: 0, top: 0, background: "#fff" }}
      fontFamily={font}>
      <rect width={width} height={height} fill="#fff" />

      {/* solid left and bottom axis lines */}
      <line x1={x0} x2={x1} y1={y0} y2={y0} stroke="#808080" />
      <line x1={x0} x2={x0} y1={y0} y2={y1} stroke="#808080" />

      {/* dashed grid */}
      {xTicks.map(t => (
        <line key={"gx" + t} x1={snap(x(t))} x2={snap(x(t))} y1={y1} y2={y0}
          stroke={grid} strokeDasharray="7,5" />
      ))}
      {yTicks.map(t => (
        <line key={"gy" + t} x1={x0} x2={x1} y1={snap(y(t))} y2={snap(y(t))}
          stroke={grid} strokeDasharray="7,5" />
      ))}

      {/* inward ticks on all four sides */}
      {xTicks.map(t => (
        <g key={"tx" + t} stroke="#000">
          <line x1={snap(x(t))} x2={snap(x(t))} y1={y0} y2={y0 - tickLen} />
          <line x1={snap(x(t))} x2={snap(x(t))} y1={y1} y2={y1 + tickLen} />
        </g>
      ))}
      {yTicks.map(t => (
        <g key={"ty" + t} stroke="#000">
          <line x1={x0} x2={x0 + tickLen} y1={snap(y(t))} y2={snap(y(t))} />
          <line x1={x1} x2={x1 - tickLen} y1={snap(y(t))} y2={snap(y(t))} />
        </g>
      ))}

      {/* points */}
      <g fill="none" stroke="#0000ff" strokeWidth={1.15}>
        {blue.map((d, i) => (
          <circle key={i} cx={x(d[0])} cy={y(d[1])} r={3.2} />
        ))}
      </g>
      <g fill="none" stroke="#ff0000" strokeWidth={1.2}>
        {redPoints.map((d, i) => (
          <path key={i} d={starPath} transform={`translate(${x(d[0])},${y(d[1])})`} />
        ))}
      </g>
      <g fill="none" stroke="#00ff00" strokeWidth={1.6}>
        {greenPoints.map((d, i) => (
          <path key={i} d={bigCrossPath} transform={`translate(${x(d[0])},${y(d[1])})`} />
        ))}
      </g>

      {/* tick labels */}
      <g fontSize={18} fill="#000">
        {xTicks.map(t => (
          <text key={"lx" + t} x={x(t)} y={491} textAnchor="middle">{t}</text>
        ))}
        {yTicks.map(t => (
          <text key={"ly" + t} x={72} y={y(t) + 6.5} textAnchor="end">{t}</text>
        ))}
      </g>

      {/* axis labels */}
      <text x={447.5} y={513} textAnchor="middle" fontSize={19.5}>error 3, MW</text>
      <text transform="translate(33.5,246) rotate(-90)" textAnchor="middle" fontSize={20}>error 4, MW</text>

      {/* legend */}
      <rect x={legend.x} y={legend.y} width={legend.w} height={legend.h} fill="#fff" stroke="#000" />
      <circle cx={633} cy={rowY[0]} r={3} fill="none" stroke="#0000ff" />
      <path d={starPath} transform={`translate(633,${rowY[1]})`} fill="none" stroke="#ff0000" />
      <path d={crossPath} transform={`translate(633,${rowY[2]})`} fill="none" stroke="#00ff00" />
      {legendLabels.map((s, i) => (
        <text key={"lg" + i} x={655} y={baseY[i]} fontSize={20.5}>
          {s}
          {legendSubs[i] && <tspan fontSize={15} dy={9}>{legendSubs[i]}</tspan>}
        </text>
      ))}
    </svg>
  )
}
